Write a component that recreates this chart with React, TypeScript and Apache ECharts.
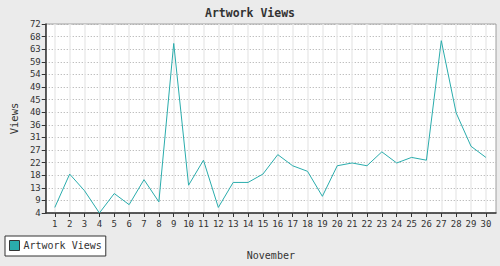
import React, { useEffect, useRef } from "react";
import * as echarts from "echarts";

const days = Array.from({ length: 30 }, (_, i) => i + 1);
const views = [6, 18, 12, 4, 11, 7, 16, 8, 65, 14, 23, 6, 15, 15, 18, 25, 21, 19, 10, 21, 22, 21, 26, 22, 24, 23, 66, 40, 28, 24];
const yMin = 4;
const yMax = 72;
const ySteps = 15;
const yTickLabels = ["4", "9", "13", "18", "22", "27", "31", "36", "40", "45", "49", "54", "59", "63", "68", "72"];

const FONT = "'DejaVu Sans Mono', 'Liberation Mono', monospace";
const TEAL = "#2aacac";

export default function App() {
  const ref = useRef<HTMLDivElement>(null);
  useEffect(() => {
    document.body.style.margin = "0";
    const chart = echarts.init(ref.current!, null, { renderer: "svg" });
    const yStep = (yMax - yMin) / ySteps;
    const yValues = yTickLabels.map((_, i) => yMin + i * yStep);
    chart.setOption({
      animation: false,
      backgroundColor: "#ebebeb",
      title: {
        text: "Artwork Views",
        left: "center",
        top: 2,
        textStyle: { fontFamily: FONT, fontSize: 11.5, fontWeight: "bold", color: "#333" },
      },
      legend: {
        left: 5,
        bottom: 10,
        orient: "horizontal",
        icon: "rect",
        itemWidth: 10,
        itemHeight: 10,
        itemGap: 4,
        padding: [4, 4, 5, 4],
        backgroundColor: "#ffffff",
        borderColor: "#333",
        borderWidth: 1,
        borderRadius: 0,
        itemStyle: { color: TEAL, borderColor: "#333", borderWidth: 1 },
        textStyle: { fontFamily: FONT, fontSize: 10, color: "#333", padding: [0, 0, 0, -1] },
        data: ["Artwork Views"],
      },
      grid: {
        left: 34,
        right: 4,
        top: 24,
        bottom: 53,
        show: true,
        backgroundColor: "#ffffff",
        borderColor: "#a0a0a0",
        borderWidth: 1,
      },
      xAxis: {
        type: "value",
        min: 0.39,
        max: 30.68,
        name: "November",
        nameLocation: "middle",
        nameGap: 37,
        nameTextStyle: { fontFamily: FONT, fontSize: 10, color: "#333" },
        axisLine: { show: true, lineStyle: { color: "#333", width: 1.5 } },
        axisTick: { show: true, length: 4, customValues: days, lineStyle: { color: "#333" } },
        axisLabel: {
          customValues: days,
          fontFamily: FONT,
          fontSize: 9,
          color: "#333",
          margin: 6,
        },
        splitLine: { show: true, lineStyle: { color: "#ebebeb", width: 1.5 } },
      },
      yAxis: {
        type: "value",
        min: yMin,
        max: yMax,
        name: "Views",
        nameLocation: "middle",
        nameGap: 22,
        nameRotate: 90,
        nameTextStyle: { fontFamily: FONT, fontSize: 10.5, color: "#333" },
        axisLine: { show: true, lineStyle: { color: "#333", width: 1.5 } },
        axisTick: { show: true, length: 4, customValues: yValues, lineStyle: { color: "#333" } },
        axisLabel: {
          customValues: yValues,
          fontFamily: FONT,
          fontSize: 9,
          color: "#333",
          margin: 5,
          formatter: (v: number) => yTickLabels[Math.round((v - yMin) / yStep)] ?? "",
        },
        splitLine: { show: true, lineStyle: { color: "#a8a8a8", type: [1, 2], width: 1 } },
      },
      series: [
        {
          name: "Artwork Views",
          type: "line",
          data: days.map((d, i) => [d, views[i]]),
          showSymbol: false,
          symbol: "none",
          lineStyle: { color: TEAL, width: 1 },
          itemStyle: { color: TEAL },
        },
      ],
    });
    return () => chart.dispose();
  }, []);
  return <div ref={ref} style={{ width: 500, height: 266 }} />;
}
